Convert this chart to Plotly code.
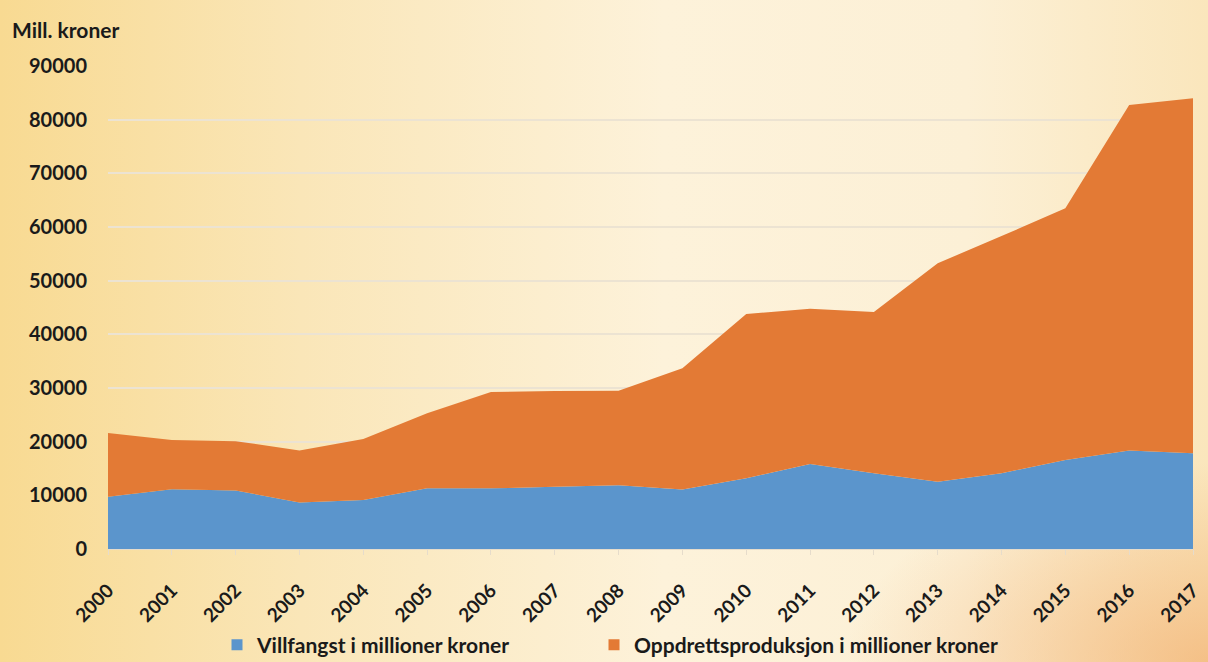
import base64
import plotly.graph_objects as go

years = list(range(2000, 2018))
villfangst = [9750, 11150, 10900, 8650, 9150, 11300, 11300, 11600, 11900, 11100,
              13200, 15850, 14100, 12550, 14100, 16600, 18350, 17850]
totals = [21600, 20300, 20100, 18350, 20500, 25300, 29250, 29450, 29500, 33700,
          43800, 44750, 44150, 53250, 58300, 63500, 82750, 84000]
oppdrett = [t - v for t, v in zip(totals, villfangst)]

y_ticks = [0, 10000, 20000, 30000, 40000, 50000, 60000, 70000, 80000, 90000]
y_ticktext = [str(v) for v in y_ticks]
name_v = "Villfangst i millioner kroner"
name_o = "Oppdrettsproduksjon i millioner kroner"
y_title = "Mill. kroner"

BLUE = "#5b95cc"
ORANGE = "#e37a35"
FONT = "Lato"
W, H = 1208, 662
ML, MR, MT, MB = 108, 15, 66, 113

svg = f'''<svg xmlns="http://www.w3.org/2000/svg" width="{W}" height="{H}" viewBox="0 0 {W} {H}" preserveAspectRatio="none">
<defs>
<linearGradient id="g" x1="0" y1="0" x2="1" y2="0">
<stop offset="0" stop-color="#f8da92"/>
<stop offset="0.25" stop-color="#fae6b8"/>
<stop offset="0.55" stop-color="#fdf2da"/>
<stop offset="0.8" stop-color="#fcf0d6"/>
<stop offset="1" stop-color="#fae6bc"/>
</linearGradient>
<radialGradient id="r" cx="1" cy="1" r="0.3">
<stop offset="0" stop-color="#f2b070" stop-opacity="0.7"/>
<stop offset="1" stop-color="#f2b070" stop-opacity="0"/>
</radialGradient>
</defs>
<rect width="{W}" height="{H}" fill="url(#g)"/>
<rect width="{W}" height="{H}" fill="url(#r)"/>
</svg>'''
src = "data:image/svg+xml;base64," + base64.b64encode(svg.encode()).decode()

pw = W - ML - MR
ph = H - MT - MB
LEG_Y = -(645 - (H - MB)) / ph
leg_font = dict(family=FONT, size=21, color="#1a1a1a", weight="bold")

fig = go.Figure()
fig.add_trace(go.Scatter(x=years, y=villfangst, name=name_v, stackgroup="one",
                         mode="none", fillcolor=BLUE, showlegend=False))
fig.add_trace(go.Scatter(x=years, y=oppdrett, name=name_o, stackgroup="one",
                         mode="none", fillcolor=ORANGE, showlegend=False))
# legend entries with square swatches
fig.add_trace(go.Scatter(x=[None], y=[None], mode="markers", name=name_v,
                         marker=dict(symbol="square", size=11, color=BLUE),
                         legend="legend"))
fig.add_trace(go.Scatter(x=[None], y=[None], mode="markers", name=name_o,
                         marker=dict(symbol="square", size=11, color=ORANGE),
                         legend="legend2"))

fig.update_layout(
    width=W, height=H,
    margin=dict(l=ML, r=MR, t=MT, b=MB, autoexpand=False),
    paper_bgcolor="#fcefd2",
    plot_bgcolor="rgba(0,0,0,0)",
    font=dict(family=FONT, color="#1a1a1a"),
    showlegend=True,
    legend=dict(orientation="h", x=(217 - ML) / pw, xanchor="left",
                y=LEG_Y, yanchor="middle", font=leg_font,
                bgcolor="rgba(0,0,0,0)", itemwidth=30),
    legend2=dict(orientation="h", x=(594 - ML) / pw, xanchor="left",
                 y=LEG_Y, yanchor="middle", font=leg_font,
                 bgcolor="rgba(0,0,0,0)", itemwidth=30),
    images=[dict(source=src, xref="paper", yref="paper",
                 x=-ML / pw, y=1 + MT / ph, sizex=W / pw, sizey=H / ph,
                 xanchor="left", yanchor="top", sizing="stretch", layer="below")],
    annotations=[dict(text=y_title, xref="paper", yref="paper",
                      x=-ML / pw + 10 / pw, y=1 + 37 / ph, xanchor="left", yanchor="middle",
                      showarrow=False,
                      font=dict(family=FONT, size=21, color="#1a1a1a", weight="bold"))],
)
fig.update_xaxes(range=[2000, 2017], tickmode="array", tickvals=years,
                 ticktext=[str(y) for y in years], tickangle=-45,
                 tickfont=dict(family=FONT, size=19, color="#1a1a1a", weight="bold"),
                 showgrid=False, showline=True, linecolor="#e6dccb", linewidth=1,
                 ticks="outside", ticklen=5, tickcolor="#e6dccb", zeroline=False,
                 ticklabelstandoff=17, automargin=False)
fig.update_yaxes(range=[0, 90000], tickmode="array", tickvals=y_ticks,
                 ticktext=y_ticktext,
                 tickfont=dict(family=FONT, size=20, color="#1a1a1a", weight="bold"),
                 showgrid=True, gridcolor="#ece3d2", gridwidth=1.5, zeroline=False,
                 ticks="", ticklabelstandoff=20, automargin=False)

fig.write_html("out.html", config={"displayModeBar": False},
               post_script="document.body.style.margin='0';document.body.style.overflow='hidden';")
